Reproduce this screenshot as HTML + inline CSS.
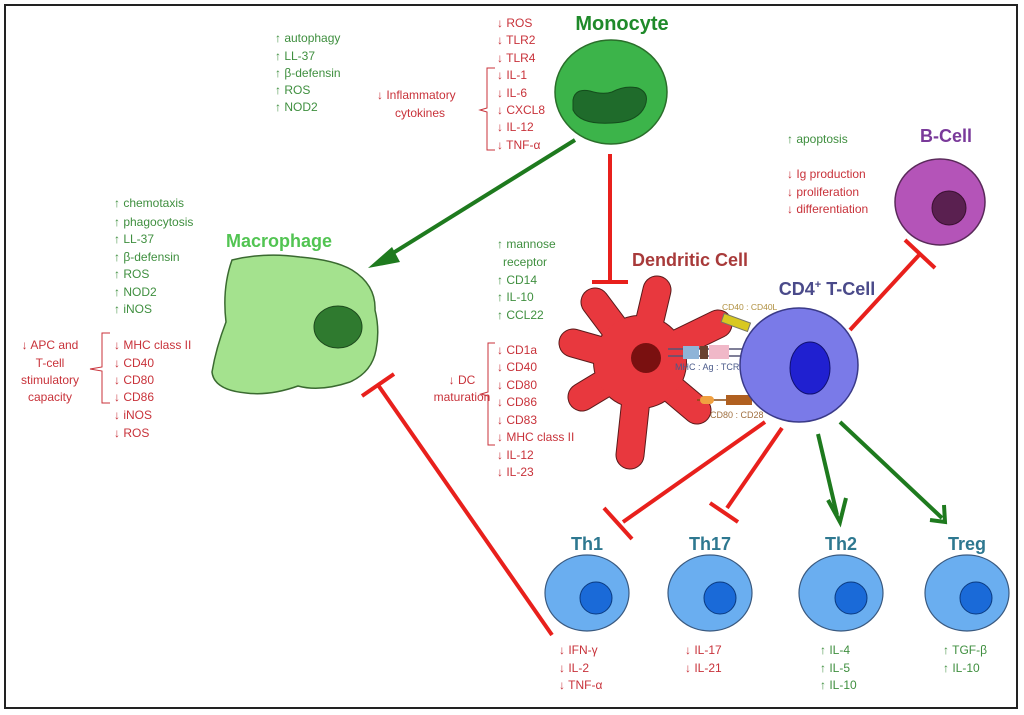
<!DOCTYPE html>
<html><head><meta charset="utf-8"><style>
html,body{margin:0;padding:0;background:#fff}
svg{display:block}
text{font-family:"Liberation Sans","DejaVu Sans",sans-serif}
.g{fill:#3f8f3f;font-size:12px}
.r{fill:#c8323a;font-size:12px}
</style></head><body>
<svg width="1024" height="715" viewBox="0 0 1024 715" xmlns="http://www.w3.org/2000/svg">
<rect x="5" y="5" width="1012" height="703" fill="#fff" stroke="#222" stroke-width="2"/>

<!-- Monocyte -->
<text x="622" y="30" text-anchor="middle" font-size="20" font-weight="bold" fill="#1f8a2a">Monocyte</text>
<ellipse cx="611" cy="92" rx="56" ry="52" fill="#3cb44a" stroke="#2a6e2a" stroke-width="1.5"/>
<path d="M573,100 Q575,88 590,91 Q603,95 612,92 Q625,85 638,88 Q650,93 645,106 Q638,122 612,123 Q580,125 573,110 Z" fill="#1f6b2b" stroke="#144d1c"/>
<g class="g">
<text x="275" y="42">↑ autophagy</text><text x="275" y="60">↑ LL-37</text><text x="275" y="77">↑ β-defensin</text><text x="275" y="94">↑ ROS</text><text x="275" y="111">↑ NOD2</text>
</g>
<g class="r">
<text x="497" y="27">↓ ROS</text><text x="497" y="44">↓ TLR2</text><text x="497" y="62">↓ TLR4</text><text x="497" y="79">↓ IL-1</text><text x="497" y="97">↓ IL-6</text><text x="497" y="114">↓ CXCL8</text><text x="497" y="131">↓ IL-12</text><text x="497" y="149">↓ TNF-α</text>
<text x="377" y="99">↓ Inflammatory</text><text x="395" y="117">cytokines</text>
</g>
<path d="M495,68 H487 V108 L480,110 L487,112 V150 H495" fill="none" stroke="#c8323a" stroke-width="1"/>

<!-- Monocyte -> Macrophage arrow -->
<line x1="575" y1="140" x2="385" y2="258" stroke="#1e7a1e" stroke-width="4"/>
<polygon points="368,268 392,247 400,262" fill="#1e7a1e"/>
<!-- Monocyte inhibit DC -->
<line x1="610" y1="154" x2="610" y2="282" stroke="#e8201c" stroke-width="4"/>
<line x1="592" y1="282" x2="628" y2="282" stroke="#e8201c" stroke-width="4"/>

<!-- Macrophage -->
<text x="279" y="247" text-anchor="middle" font-size="18" font-weight="bold" fill="#52c452">Macrophage</text>
<path d="M232,260 Q265,252 300,257 Q335,260 352,270 Q376,285 375,310 Q380,330 376,350 Q372,372 350,382 Q320,392 298,386 Q270,396 246,393 Q214,390 212,372 Q216,348 226,322 Q222,288 232,260 Z" fill="#a4e28e" stroke="#3a6a30" stroke-width="1.5"/>
<ellipse cx="338" cy="327" rx="24" ry="21" fill="#2f7a2f" stroke="#1d4a1d"/>
<g class="g">
<text x="114" y="207">↑ chemotaxis</text><text x="114" y="226">↑ phagocytosis</text><text x="114" y="243">↑ LL-37</text><text x="114" y="261">↑ β-defensin</text><text x="114" y="278">↑ ROS</text><text x="114" y="296">↑ NOD2</text><text x="114" y="313">↑ iNOS</text>
</g>
<g class="r">
<text x="114" y="349">↓ MHC class II</text><text x="114" y="367">↓ CD40</text><text x="114" y="384">↓ CD80</text><text x="114" y="401">↓ CD86</text><text x="114" y="419">↓ iNOS</text><text x="114" y="437">↓ ROS</text>
<text x="50" y="349" text-anchor="middle">↓ APC and</text><text x="50" y="367" text-anchor="middle">T-cell</text><text x="50" y="384" text-anchor="middle">stimulatory</text><text x="50" y="401" text-anchor="middle">capacity</text>
</g>
<path d="M110,333 H102 V367 L90,369 L102,371 V403 H110" fill="none" stroke="#c8323a" stroke-width="1"/>
<!-- Th1 inhibit macrophage -->
<line x1="552" y1="635" x2="378" y2="385" stroke="#e8201c" stroke-width="4"/>
<line x1="362" y1="396" x2="394" y2="374" stroke="#e8201c" stroke-width="4"/>

<!-- DC -->
<text x="690" y="266" text-anchor="middle" font-size="18" font-weight="bold" fill="#a83a3a">Dendritic Cell</text>
<g stroke="#5a1a1a" stroke-width="29" stroke-linecap="round">
<line x1="640" y1="362" x2="595" y2="302"/><line x1="640" y1="362" x2="657" y2="290"/><line x1="640" y1="362" x2="718" y2="324"/><line x1="640" y1="362" x2="573" y2="343"/><line x1="640" y1="362" x2="582" y2="397"/><line x1="640" y1="362" x2="630" y2="455"/><line x1="640" y1="362" x2="697" y2="410"/>
</g>
<circle cx="640" cy="362" r="47" fill="#5a1a1a"/>
<g stroke="#e8383e" stroke-width="27" stroke-linecap="round">
<line x1="640" y1="362" x2="595" y2="302"/><line x1="640" y1="362" x2="657" y2="290"/><line x1="640" y1="362" x2="718" y2="324"/><line x1="640" y1="362" x2="573" y2="343"/><line x1="640" y1="362" x2="582" y2="397"/><line x1="640" y1="362" x2="630" y2="455"/><line x1="640" y1="362" x2="697" y2="410"/>
</g>
<circle cx="640" cy="362" r="46" fill="#e8383e"/>
<ellipse cx="646" cy="358" rx="15" ry="15" fill="#7a1010"/>
<!-- connectors -->
<rect x="722" y="318" width="28" height="9" fill="#d8c820" stroke="#776" transform="rotate(20 736 322)"/>
<line x1="668" y1="349" x2="750" y2="349" stroke="#557" stroke-width="1.5"/>
<line x1="668" y1="356" x2="750" y2="356" stroke="#557" stroke-width="1.5"/>
<rect x="683" y="346" width="16" height="13" fill="#8fb4d8"/><rect x="700" y="346" width="8" height="13" fill="#6a4030"/><rect x="709" y="345" width="20" height="14" fill="#f0b8c8"/>
<line x1="697" y1="400" x2="750" y2="400" stroke="#8a4a10" stroke-width="1.5"/>
<rect x="700" y="396" width="14" height="8" rx="4" fill="#f0a040"/><rect x="726" y="395" width="26" height="10" fill="#b06020"/>
<text x="722" y="310" font-size="8.5" fill="#b09040">CD40 : CD40L</text>
<text x="675" y="370" font-size="9" fill="#4a5a8a">MHC : Ag : TCR</text>
<text x="710" y="418" font-size="9" fill="#a07040">CD80 : CD28</text>
<g class="g">
<text x="497" y="248">↑ mannose</text><text x="503" y="266">receptor</text><text x="497" y="284">↑ CD14</text><text x="497" y="301">↑ IL-10</text><text x="497" y="319">↑ CCL22</text>
</g>
<g class="r">
<text x="497" y="354">↓ CD1a</text><text x="497" y="371">↓ CD40</text><text x="497" y="389">↓ CD80</text><text x="497" y="406">↓ CD86</text><text x="497" y="424">↓ CD83</text><text x="497" y="441">↓ MHC class II</text><text x="497" y="459">↓ IL-12</text><text x="497" y="476">↓ IL-23</text>
<text x="462" y="384" text-anchor="middle">↓ DC</text><text x="462" y="401" text-anchor="middle">maturation</text>
</g>
<path d="M495,343 H488 V392 L481,394 L488,396 V445 H495" fill="none" stroke="#c8323a" stroke-width="1"/>

<!-- T cell -->
<text x="827" y="295" text-anchor="middle" font-size="18" font-weight="bold" fill="#4a4a8a">CD4<tspan font-size="11" dy="-7">+</tspan><tspan dy="7"> T-Cell</tspan></text>
<ellipse cx="799" cy="365" rx="59" ry="57" fill="#7a7ae8" stroke="#3a3a88" stroke-width="1.5"/>
<ellipse cx="810" cy="368" rx="20" ry="26" fill="#2020d0" stroke="#101070"/>

<!-- B cell -->
<text x="946" y="142" text-anchor="middle" font-size="18" font-weight="bold" fill="#7a3a9a">B-Cell</text>
<ellipse cx="940" cy="202" rx="45" ry="43" fill="#b454b8" stroke="#5a2a5a" stroke-width="1.5"/>
<circle cx="949" cy="208" r="17" fill="#5a2050" stroke="#3a1030"/>
<text class="g" x="787" y="143">↑ apoptosis</text>
<g class="r"><text x="787" y="178">↓ Ig production</text><text x="787" y="196">↓ proliferation</text><text x="787" y="213">↓ differentiation</text></g>
<line x1="850" y1="330" x2="920" y2="254" stroke="#e8201c" stroke-width="4"/>
<line x1="905" y1="240" x2="935" y2="268" stroke="#e8201c" stroke-width="4"/>

<!-- T cell to Th -->
<line x1="765" y1="422" x2="623" y2="522" stroke="#e8201c" stroke-width="4"/>
<line x1="604" y1="508" x2="632" y2="539" stroke="#e8201c" stroke-width="4"/>
<line x1="782" y1="428" x2="727" y2="508" stroke="#e8201c" stroke-width="4"/>
<line x1="710" y1="503" x2="738" y2="522" stroke="#e8201c" stroke-width="4"/>
<line x1="818" y1="434" x2="837" y2="515" stroke="#1e7a1e" stroke-width="4"/>
<polyline points="828,500 840,522 846,498" fill="none" stroke="#1e7a1e" stroke-width="4"/>
<line x1="840" y1="422" x2="942" y2="518" stroke="#1e7a1e" stroke-width="4"/>
<polyline points="930,520 945,522 944,505" fill="none" stroke="#1e7a1e" stroke-width="4"/>

<!-- Th cells -->
<g font-size="18" font-weight="bold" fill="#2e7890" text-anchor="middle">
<text x="587" y="550">Th1</text><text x="710" y="550">Th17</text><text x="841" y="550">Th2</text><text x="967" y="550">Treg</text>
</g>
<g fill="#6aaef0" stroke="#3a5a80" stroke-width="1.2">
<ellipse cx="587" cy="593" rx="42" ry="38"/><ellipse cx="710" cy="593" rx="42" ry="38"/><ellipse cx="841" cy="593" rx="42" ry="38"/><ellipse cx="967" cy="593" rx="42" ry="38"/>
</g>
<g fill="#1a6ad8" stroke="#0a3a80" stroke-width="1">
<circle cx="596" cy="598" r="16"/><circle cx="720" cy="598" r="16"/><circle cx="851" cy="598" r="16"/><circle cx="976" cy="598" r="16"/>
</g>
<g class="r"><text x="559" y="654">↓ IFN-γ</text><text x="559" y="672">↓ IL-2</text><text x="559" y="689">↓ TNF-α</text>
<text x="685" y="654">↓ IL-17</text><text x="685" y="672">↓ IL-21</text></g>
<g class="g"><text x="820" y="654">↑ IL-4</text><text x="820" y="672">↑ IL-5</text><text x="820" y="689">↑ IL-10</text>
<text x="943" y="654">↑ TGF-β</text><text x="943" y="672">↑ IL-10</text></g>
</svg>
</body></html>
